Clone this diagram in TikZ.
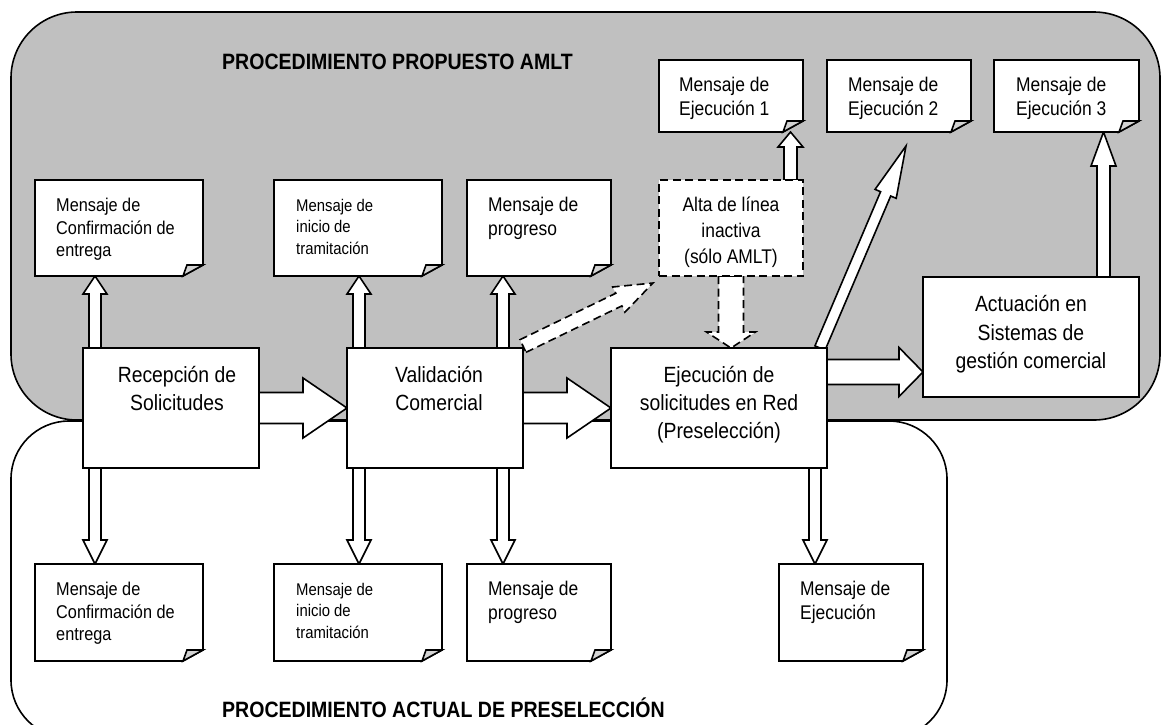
\documentclass[tikz,border=0pt]{standalone}
\usepackage{fontspec}
\setmainfont{Liberation Sans}[FakeStretch=0.88]
\usetikzlibrary{calc}
\pgfdeclarelayer{back}
\pgfdeclarelayer{arrowlayer}
\pgfsetlayers{back,arrowlayer,main}
\definecolor{bggray}{RGB}{192,192,192}
\newcommand\topstrut{\rule{0pt}{20pt}}
% #1 options, #2 start, #3 end, #4 shaft half width, #5 head half width, #6 head length
\newcommand\blockarrow[6][]{%
  \path let \p1=(#2), \p2=(#3), \n1={atan2(\y2-\y1,\x2-\x1)}, \n2={veclen(\x2-\x1,\y2-\y1)} in
    \pgfextra{\xdef\baAng{\n1}\xdef\baLen{\n2}\xdef\baX{\x1}\xdef\baY{\y1}};
  \filldraw[barrow,#1,shift={(\baX,\baY)},rotate=\baAng]
    (0,#4) -- ({\baLen-#6},#4) -- ({\baLen-#6},#5) -- (\baLen,0) -- ({\baLen-#6},-#5) -- ({\baLen-#6},-#4) -- (0,-#4) -- cycle;
}
\newcommand\docshape[1]{%
  \filldraw[docline] (#1.north west) -- (#1.north east) -- ($(#1.south east)+(0,-11)$) -- ($(#1.south east)+(-20,0)$) -- (#1.south west) -- cycle;
  \filldraw[foldline] ($(#1.south east)+(-20,0)$) -- ($(#1.south east)+(-16,-11)$) -- ($(#1.south east)+(0,-11)$) -- cycle;
}
\tikzset{
  thickline/.style={line width=1.6pt},
  boxnode/.style={thickline, draw=black, fill=white, inner sep=0pt, outer sep=0pt},
  docnode/.style={inner sep=0pt, outer sep=0pt},
  docline/.style={thickline, draw=black, fill=white},
  foldline/.style={thickline, draw=black, fill=bggray!70},
  barrow/.style={thickline, draw=black, fill=white},
  dashline/.style={dash pattern=on 8pt off 4.5pt},
  region/.style={thickline, draw=black},
  maintext/.style={inner sep=0pt, anchor=north, align=center, font=\fontsize{22}{28.3}\selectfont},
  altatext/.style={inner sep=0pt, anchor=north, align=center, font=\fontsize{19.8}{26}\selectfont},
  doctextA/.style={inner sep=0pt, anchor=north west, align=left, font=\fontsize{18.5}{22.8}\selectfont},
  doctextB/.style={inner sep=0pt, anchor=north west, align=left, font=\fontsize{19.8}{23.8}\selectfont},
  doctextC/.style={inner sep=0pt, anchor=north west, align=left, font=\fontsize{16.9}{21.7}\selectfont},
  titletext/.style={inner sep=0pt, anchor=base west, font=\fontsize{22.2}{26}\selectfont\bfseries},
}
\begin{document}
\begin{tikzpicture}[x=1pt,y=-1pt]
\useasboundingbox (0,0) rectangle (1162,724);

% regions
\begin{pgfonlayer}{back}
  \fill[white] (0,0) rectangle (1162,724);
  \draw[region, fill=bggray, rounded corners=66pt] (11,12) rectangle (1160,420);
  \draw[region, fill=white, rounded corners=58pt] (11,421) rectangle (947,738);
\end{pgfonlayer}

% main boxes
\node[boxnode, minimum width=176pt, minimum height=120pt] (rec) at (171,408) {};
\node[boxnode, minimum width=176pt, minimum height=120pt] (val) at (435,408) {};
\node[boxnode, minimum width=216pt, minimum height=120pt] (ej) at (719,408) {};
\node[boxnode, minimum width=216pt, minimum height=120pt] (act) at (1031,337) {};
\node[boxnode, dashline, minimum width=144pt, minimum height=96pt] (alta) at (731,228) {};

% document placeholders
\node[docnode, minimum width=168pt, minimum height=96pt] (cfT) at (119,228) {};
\node[docnode, minimum width=168pt, minimum height=96pt] (inT) at (358,228) {};
\node[docnode, minimum width=144pt, minimum height=96pt] (prT) at (539,228) {};
\node[docnode, minimum width=144pt, minimum height=72pt] (e1) at (731,96) {};
\node[docnode, minimum width=144pt, minimum height=72pt] (e2) at (899,96) {};
\node[docnode, minimum width=145pt, minimum height=72pt] (e3) at (1066.5,96) {};
\node[docnode, minimum width=168pt, minimum height=97pt] (cfB) at (119,612.5) {};
\node[docnode, minimum width=168pt, minimum height=97pt] (inB) at (358,612.5) {};
\node[docnode, minimum width=144pt, minimum height=97pt] (prB) at (539,612.5) {};
\node[docnode, minimum width=144pt, minimum height=97pt] (ejB) at (851,612.5) {};

\foreach \d in {cfT,inT,prT,e1,e2,e3,cfB,inB,prB,ejB} {\docshape{\d}}

% connector anchor points
\coordinate (aRec) at ($(rec.north west)+(12,0)$);
\coordinate (bRec) at ($(rec.south west)+(12,0)$);
\coordinate (aVal1) at ($(val.north west)+(12,0)$);
\coordinate (bVal1) at ($(val.south west)+(12,0)$);
\coordinate (aVal2) at ($(val.north west)+(156,0)$);
\coordinate (bVal2) at ($(val.south west)+(156,0)$);
\coordinate (bEj) at ($(ej.south west)+(204,0)$);
\coordinate (aAlta) at ($(alta.north west)+(131.5,0)$);
\coordinate (bAlta) at ($(alta.south west)+(72,0)$);
\coordinate (aAct) at ($(act.north west)+(180.5,0)$);
\coordinate (rEj) at ($(ej.north east)+(0,24)$);
\coordinate (dEj) at ($(ej.north east)+(-7,0)$);
\coordinate (e2tip) at ($(e2.south west)+(79,14)$);
\coordinate (dVal) at ($(val.north east)+(0,-2)$);
\coordinate (altatip) at ($(alta.south west)+(-6,7)$);

\begin{pgfonlayer}{arrowlayer}
  \blockarrow{rec.east}{val.west}{15.5}{30}{44}
  \blockarrow{val.east}{ej.west}{15.5}{30}{44}
  \blockarrow{rEj}{rEj -| act.west}{12.5}{24.5}{24}
  \blockarrow{aRec}{aRec |- cfT.south}{6}{12}{18}
  \blockarrow{bRec}{bRec |- cfB.north}{6}{12}{24}
  \blockarrow{aVal1}{aVal1 |- inT.south}{6}{12}{18}
  \blockarrow{bVal1}{bVal1 |- inB.north}{6}{12}{24}
  \blockarrow{aVal2}{aVal2 |- prT.south}{6}{12}{18}
  \blockarrow{bVal2}{bVal2 |- prB.north}{6}{12}{24}
  \blockarrow{bEj}{bEj |- ejB.north}{6}{12}{24}
  \blockarrow{aAlta}{aAlta |- e1.south}{6.5}{12.5}{15}
  \blockarrow{aAct}{aAct |- e3.south}{6.5}{12.5}{34}
  \blockarrow{dEj}{e2tip}{5.5}{11.5}{52}
  \blockarrow[dashline]{dVal}{altatip}{7}{14}{38}
  \blockarrow[dashline]{bAlta}{bAlta |- ej.north}{12.5}{24.5}{16}
\end{pgfonlayer}

% texts
\node[maintext] (tRec) at ($(rec.north)+(6,14)$) {\topstrut Recepción de\\Solicitudes};
\node[maintext] (tVal) at ($(val.north)+(4,14)$) {\topstrut Validación\\Comercial};
\node[maintext] (tEj) at ($(ej.north)+(0,14)$) {\topstrut Ejecución de\\solicitudes en Red\\(Preselección)};
\node[maintext] (tAct) at ($(act.north)+(0,14.5)$) {\topstrut Actuación en\\Sistemas de\\gestión comercial};
\node[altatext] (tAlta) at ($(alta.north)+(0,11)$) {\topstrut Alta de línea\\inactiva\\(sólo AMLT)};

\node[doctextA] (tcfT) at ($(cfT.north west)+(21,11)$) {\topstrut Mensaje de\\Confirmación de\\entrega};
\node[doctextC] (tinT) at ($(inT.north west)+(22,11)$) {\topstrut Mensaje de\\inicio de\\tramitación};
\node[doctextB] (tprT) at ($(prT.north west)+(21,11)$) {\topstrut Mensaje de\\progreso};
\node[doctextB] (te1) at ($(e1.north west)+(20,11)$) {\topstrut Mensaje de\\Ejecución 1};
\node[doctextB] (te2) at ($(e2.north west)+(21,11)$) {\topstrut Mensaje de\\Ejecución 2};
\node[doctextB] (te3) at ($(e3.north west)+(22,11)$) {\topstrut Mensaje de\\Ejecución 3};
\node[doctextA] (tcfB) at ($(cfB.north west)+(21,11)$) {\topstrut Mensaje de\\Confirmación de\\entrega};
\node[doctextC] (tinB) at ($(inB.north west)+(22,11)$) {\topstrut Mensaje de\\inicio de\\tramitación};
\node[doctextB] (tprB) at ($(prB.north west)+(21,11)$) {\topstrut Mensaje de\\progreso};
\node[doctextB] (tejB) at ($(ejB.north west)+(21,11)$) {\topstrut Mensaje de\\Ejecución};

\node[titletext] (title1) at (222,69) {PROCEDIMIENTO PROPUESTO AMLT};
\node[titletext] (title2) at (222,717) {PROCEDIMIENTO ACTUAL DE PRESELECCIÓN};
\end{tikzpicture}
\end{document}
